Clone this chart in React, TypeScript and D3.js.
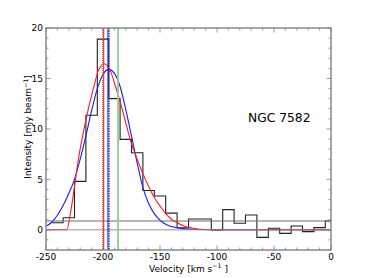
import React from 'react';
import * as d3 from 'd3';

// channel centres (km/s) and measured flux (mJy/beam)
const channelVel = [-240, -230, -220, -210, -200, -190, -180, -170, -160, -150, -140, -130, -120, -110, -100, -90, -80, -70, -60, -50, -40, -30, -20, -10, 0];
const channelFlux = [0.7, 1.2, 4.8, 11.35, 18.9, 13.0, 8.96, 7.64, 3.9, 3.35, 1.65, 0.2, 1.07, 1.07, -0.02, 2.0, 0.65, 1.47, -0.75, 0.15, -0.35, 0.38, -0.18, 0.22, 0.87];

// gaussian fit (blue)
const blueVel = [-250, -245, -240, -235, -230, -225, -220, -215, -210, -205, -200, -195, -190, -185, -180, -175, -170, -165, -160, -155, -150, -145, -140, -135, -130, -120, -100, -80, 0];
const blueFlux = [0.35, 0.75, 1.45, 2.4, 3.6, 5.0, 7.0, 9.3, 11.8, 14.0, 15.4, 15.9, 15.5, 14.2, 11.9, 9.3, 6.6, 4.2, 2.6, 1.6, 0.95, 0.55, 0.32, 0.2, 0.12, 0.05, 0.01, 0, 0];

// gauss-hermite fit (red)
const redVel = [-250, -232, -228, -225, -222, -217, -212, -208, -204, -201, -199, -197, -193, -189, -184, -180, -176, -171, -167, -162, -158, -154, -149, -145, -140, -135, -129, -122, -115, -105, -95, 0];
const redFlux = [0, 0, 2.0, 4.3, 6.7, 9.8, 12.4, 14.2, 15.8, 16.35, 16.45, 16.35, 15.6, 14.2, 12.3, 10.6, 8.9, 7.3, 6.1, 4.8, 3.85, 3.0, 2.2, 1.6, 1.05, 0.7, 0.38, 0.18, 0.06, 0.01, 0, 0];

const rmsLevel = 0.87;
const markerVel = { redDot: -200.3, red: -199.4, black: -195.7, blue: -194.8, green: -186.8 };
const label = 'NGC 7582';

const W = 368, H = 278;
const L = 46, R = 331, T = 28, B = 250;
const FONT = 'DejaVu Sans, sans-serif';

export default function App() {
  const x = d3.scaleLinear().domain([-250, 0]).range([L, R]);
  const y = d3.scaleLinear().domain([-2, 20]).range([B, T]);

  const width = channelVel[1] - channelVel[0];
  const stepPts: [number, number][] = channelVel.map((v, i) => [Math.max(-250, v - width / 2), channelFlux[i]]);
  stepPts.push([Math.min(0, channelVel[channelVel.length - 1] + width / 2), channelFlux[channelFlux.length - 1]]);
  const stepLine = d3.line<[number, number]>().x(d => x(d[0])).y(d => y(d[1])).curve(d3.curveStepAfter);

  const fitLine = d3.line<[number, number]>().x(d => x(d[0])).y(d => y(d[1])).curve(d3.curveMonotoneX);
  const bluePts = blueVel.map((v, i) => [v, blueFlux[i]] as [number, number]);
  const redPts = redVel.map((v, i) => [v, redFlux[i]] as [number, number]);

  const xMajor = d3.range(-250, 1, 50);
  const xMinor = d3.range(-250, 1, 10);
  const yMajor = d3.range(0, 21, 5);
  const yMinor = d3.range(-2, 21, 1);
  const tc = '#808080';

  const vline = (v: number, color: string, w: number, dash?: string) => (
    <line x1={x(v)} x2={x(v)} y1={T} y2={B} stroke={color} strokeWidth={w} strokeDasharray={dash} />
  );

  return (
    <svg width={W} height={H} style={{ position: 'fixed', left: 0, top: 0, background: '#fff' }} fontFamily={FONT}>
      <defs>
        <clipPath id="plot"><rect x={L} y={T} width={R - L} height={B - T} /></clipPath>
      </defs>
      <g clipPath="url(#plot)">
        <path d={stepLine(stepPts) || ''} fill="none" stroke="#222" strokeWidth={1.1} />
        <path d={fitLine(bluePts) || ''} fill="none" stroke="#1a1aff" strokeWidth={1.1} />
        <path d={fitLine(redPts) || ''} fill="none" stroke="#ff1a1a" strokeWidth={1.1} />
        <line x1={L} x2={R} y1={y(rmsLevel)} y2={y(rmsLevel)} stroke="#6e6e6e" strokeWidth={1.1} />
        <line x1={L} x2={R} y1={y(0)} y2={y(0)} stroke="#888" strokeOpacity={0.6} strokeWidth={1.6} />
        {vline(markerVel.redDot, '#c06060', 1, '1,1')}
        {vline(markerVel.red, '#ff2020', 1.1)}
        {vline(markerVel.black, '#202040', 0.9)}
        {vline(markerVel.blue, '#2a2aff', 1.5, '1.5,1')}
        {vline(markerVel.green, '#8fcf8f', 1.8)}
      </g>
      {xMinor.map(v => (
        <g key={'xm' + v} stroke={tc} strokeWidth={0.8}>
          <line x1={x(v)} x2={x(v)} y1={B} y2={B - (v % 50 === 0 ? 4.5 : 2.5)} />
          <line x1={x(v)} x2={x(v)} y1={T} y2={T + (v % 50 === 0 ? 4.5 : 2.5)} />
        </g>
      ))}
      {yMinor.map(v => (
        <g key={'ym' + v} stroke={tc} strokeWidth={0.8}>
          <line x1={L} x2={L + (v % 5 === 0 ? 4.5 : 2.5)} y1={y(v)} y2={y(v)} />
          <line x1={R} x2={R - (v % 5 === 0 ? 4.5 : 2.5)} y1={y(v)} y2={y(v)} />
        </g>
      ))}
      <rect x={L} y={T} width={R - L} height={B - T} fill="none" stroke={tc} strokeWidth={1.4} />
      {xMajor.map(v => (
        <text key={'xl' + v} x={x(v)} y={B + 9.5} fontSize={9} textAnchor="middle">{v}</text>
      ))}
      {yMajor.map(v => (
        <text key={'yl' + v} x={L - 3} y={y(v) + 3.3} fontSize={9} textAnchor="end">{v}</text>
      ))}
      <text x={(L + R) / 2} y={271.5} fontSize={9} textAnchor="middle">
        Velocity [km s<tspan fontSize={6.3} dy={-3.5}>−1</tspan><tspan dy={3.5}> ]</tspan>
      </text>
      <text transform={`translate(31,127) rotate(-90)`} fontSize={9} textAnchor="middle">
        Intensity [mJy beam<tspan fontSize={6.3} dy={-3.5}>−1</tspan><tspan dy={3.5}>]</tspan>
      </text>
      <text x={310.5} y={121.7} fontSize={12.3} textAnchor="end">{label}</text>
    </svg>
  );
}
